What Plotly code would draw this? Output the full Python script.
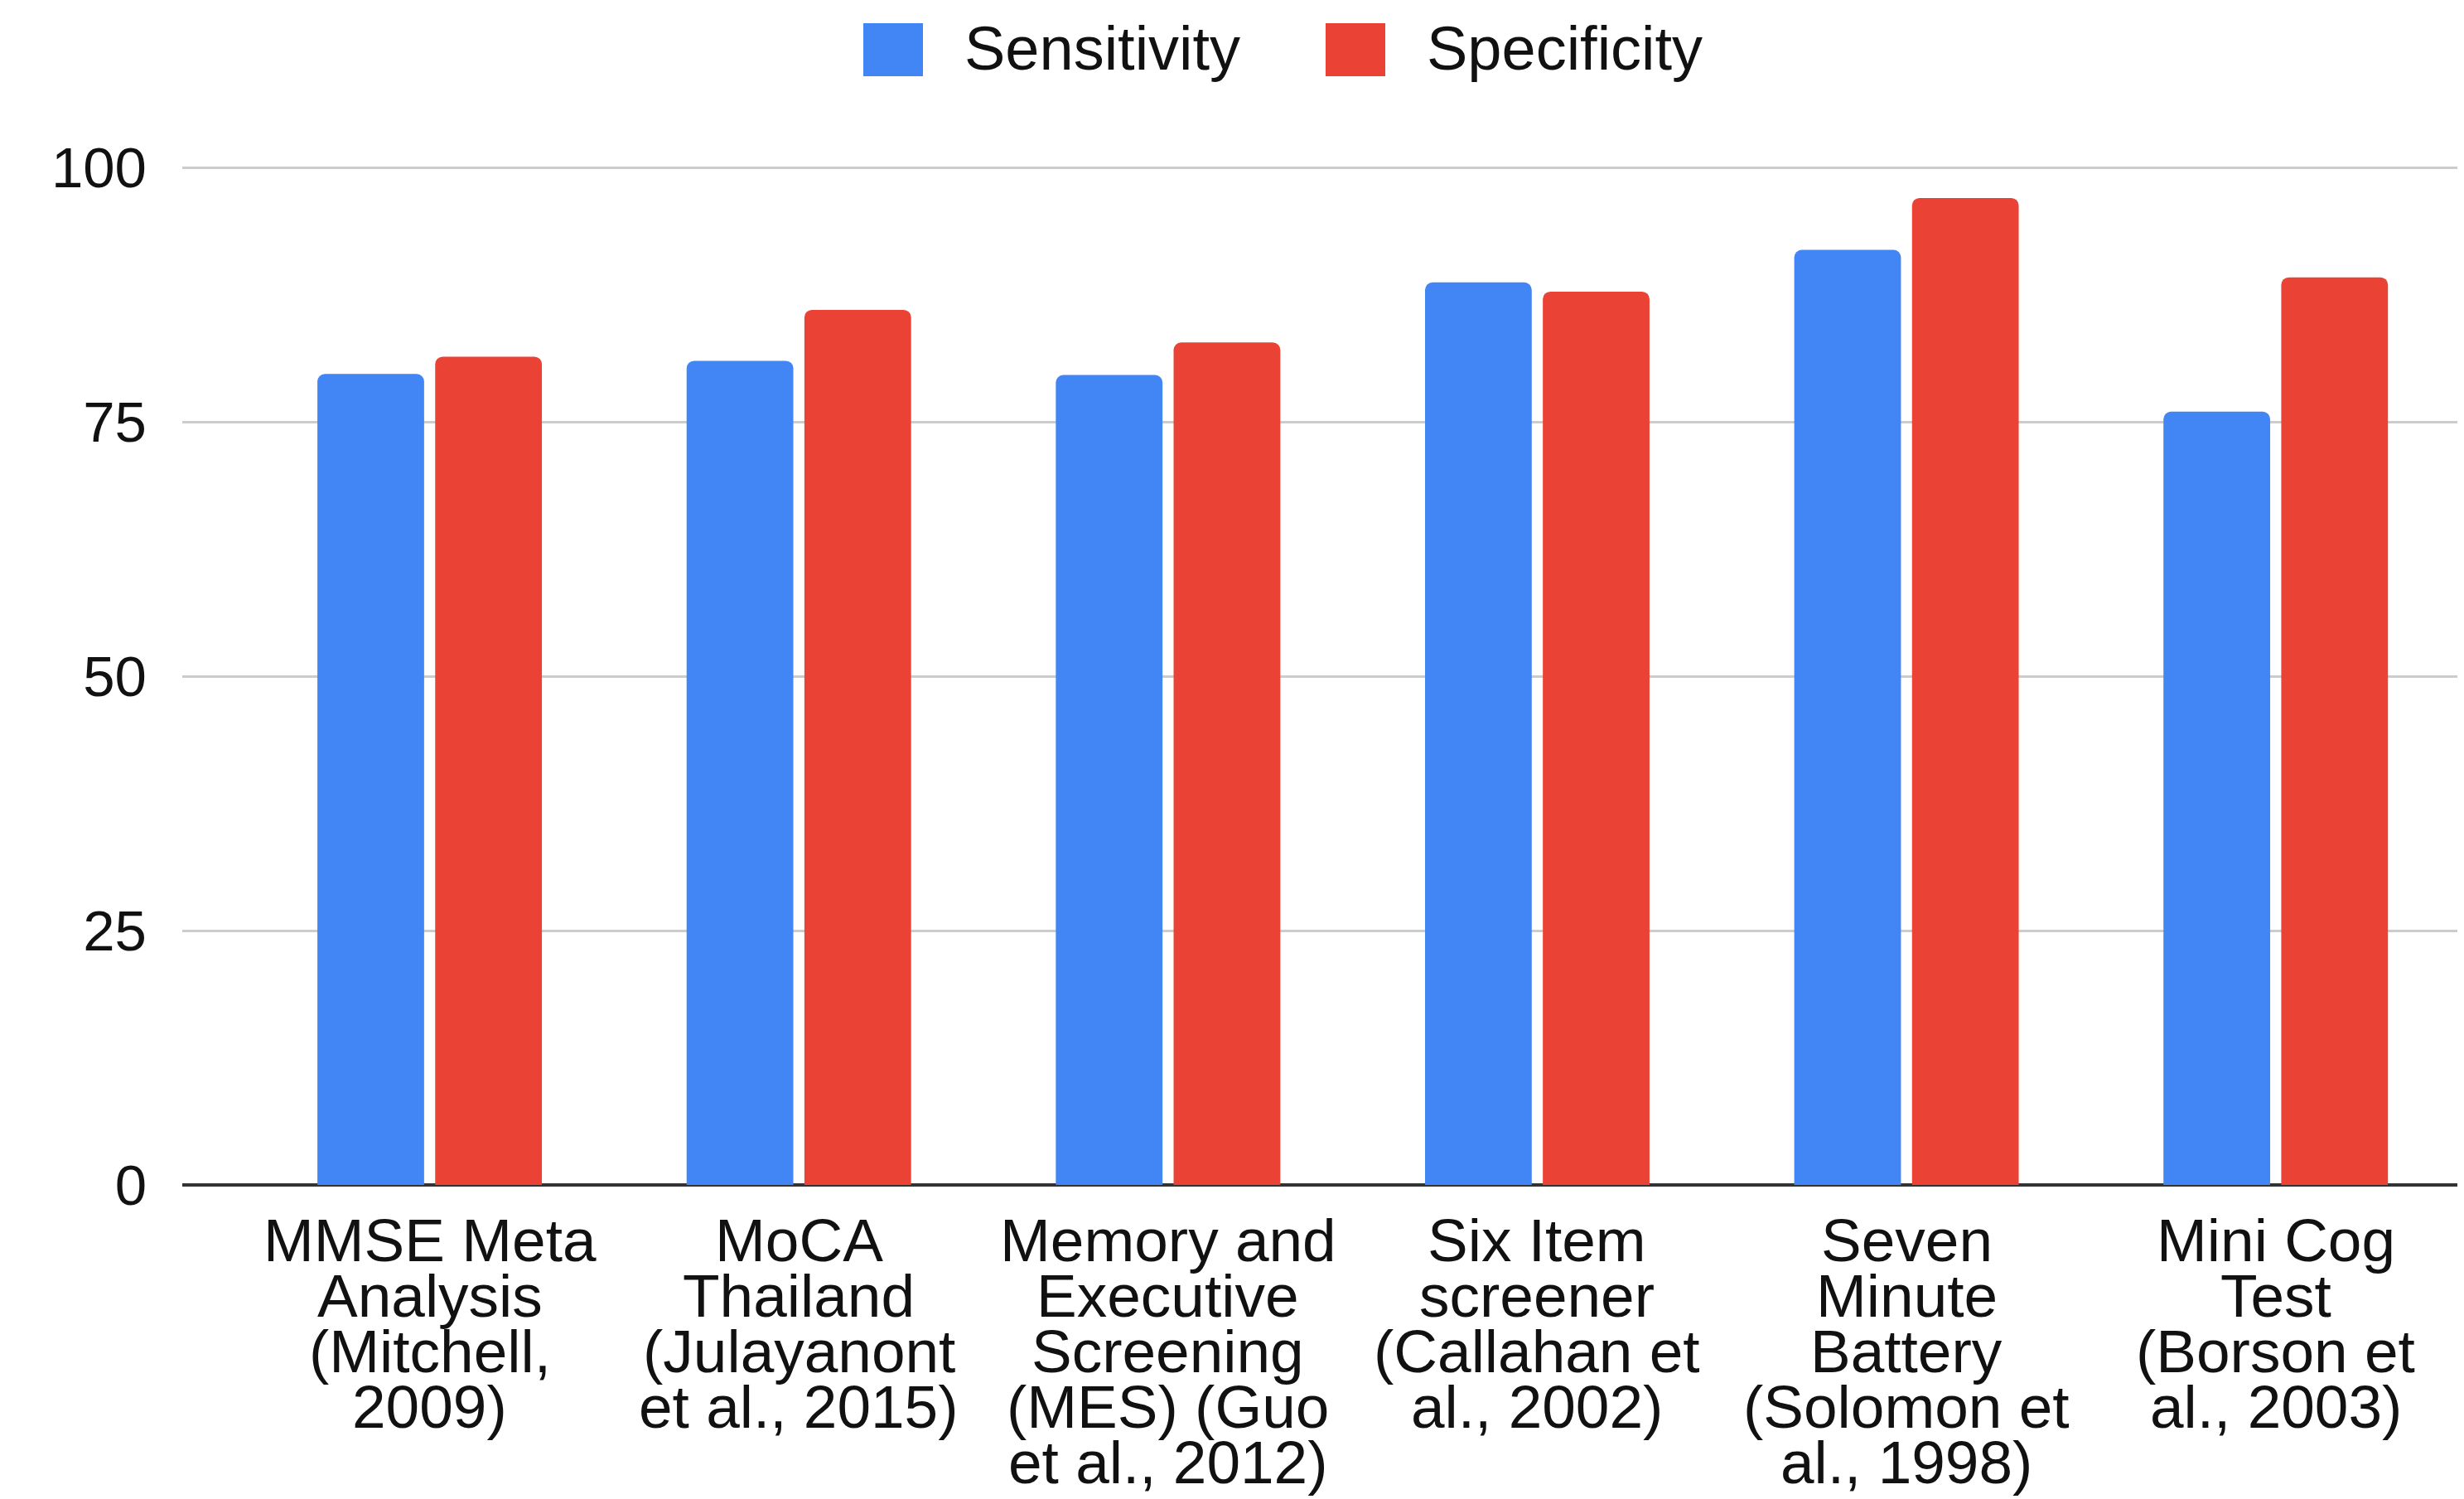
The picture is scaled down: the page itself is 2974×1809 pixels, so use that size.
import plotly.graph_objects as go

# ---- data ----
label_lines = [
    ["MMSE Meta", "Analysis", "(Mitchell,", "2009)"],
    ["MoCA", "Thailand", "(Julayanont", "et al., 2015)"],
    ["Memory and", "Executive", "Screening", "(MES) (Guo", "et al., 2012)"],
    ["Six Item", "screener", "(Callahan et", "al., 2002)"],
    ["Seven", "Minute", "Battery", "(Solomon et", "al., 1998)"],
    ["Mini Cog", "Test", "(Borson et", "al., 2003)"],
]
categories = [" ".join(l) for l in label_lines]
sensitivity = [79.7, 81.0, 79.6, 88.7, 91.9, 76.0]
specificity = [81.4, 86.0, 82.8, 87.8, 97.0, 89.2]
series_names = ["Sensitivity", "Specificity"]
y_ticks = [0, 25, 50, 75, 100]

BLUE = "#4285F4"
RED = "#EA4335"
FONT = "Arial, Liberation Sans, sans-serif"
TXT = "#111111"

OFF = 8  # default page body margin
W, H = 2974 - OFF, 1809 - OFF
ML, MR, MT = 220 - OFF, 0, 199 - OFF
PH = 1231
MB = H - MT - PH
PW = W - ML - MR

fig = go.Figure()
fig.add_trace(go.Bar(x=categories, y=sensitivity, name=series_names[0],
                     marker=dict(color=BLUE, line=dict(width=0), cornerradius=9),
                     showlegend=False))
fig.add_trace(go.Bar(x=categories, y=specificity, name=series_names[1],
                     marker=dict(color=RED, line=dict(width=0), cornerradius=9),
                     showlegend=False))

# category labels below axis (tight line spacing as in reference)
annotations = []
for cat, lines in zip(categories, label_lines):
    for i, ln in enumerate(lines):
        annotations.append(dict(
            x=cat, xref="x", y=0, yref="paper", text=ln, showarrow=False,
            xanchor="center", yanchor="middle", yshift=-(66 + i * 67),
            font=dict(family=FONT, size=73, color=TXT)))

# custom legend (page pixel -> paper coordinates)
def px2paper_x(px):
    return (px - OFF - ML) / PW

def px2paper_y(py):
    return (MT + PH - (py - OFF)) / PH

legend_items = [(series_names[0], BLUE, 1042), (series_names[1], RED, 1600)]
shapes = []
for name, col, x0 in legend_items:
    shapes.append(dict(type="rect", xref="paper", yref="paper",
                       x0=px2paper_x(x0), x1=px2paper_x(x0 + 72),
                       y0=px2paper_y(92), y1=px2paper_y(28),
                       fillcolor=col, line=dict(width=0)))
    annotations.append(dict(x=px2paper_x(x0 + 120), xref="paper",
                            y=px2paper_y(58), yref="paper", text=name,
                            showarrow=False, xanchor="left", yanchor="middle",
                            font=dict(family=FONT, size=74, color=TXT)))

fig.update_layout(
    width=W, height=H,
    margin=dict(l=ML, r=MR, t=MT, b=MB, pad=0),
    paper_bgcolor="white", plot_bgcolor="white",
    barmode="group", bargap=0.362, bargroupgap=0.094,
    font=dict(family=FONT, size=70, color=TXT),
    annotations=annotations, shapes=shapes,
    showlegend=False,
)
fig.update_xaxes(type="category", range=[-0.67, 5.51], showticklabels=False,
                 showgrid=False, zeroline=False, showline=False, ticks="")
fig.update_yaxes(range=[0, 100.25], tickvals=y_ticks,
                 ticktext=[str(v) for v in y_ticks],
                 showgrid=True, gridcolor="#CCCCCC", gridwidth=3,
                 zeroline=True, zerolinecolor="#333333", zerolinewidth=4,
                 showline=False, ticks="", ticklabelstandoff=42,
                 tickfont=dict(family=FONT, size=69, color=TXT))

fig.write_html("out.html")
